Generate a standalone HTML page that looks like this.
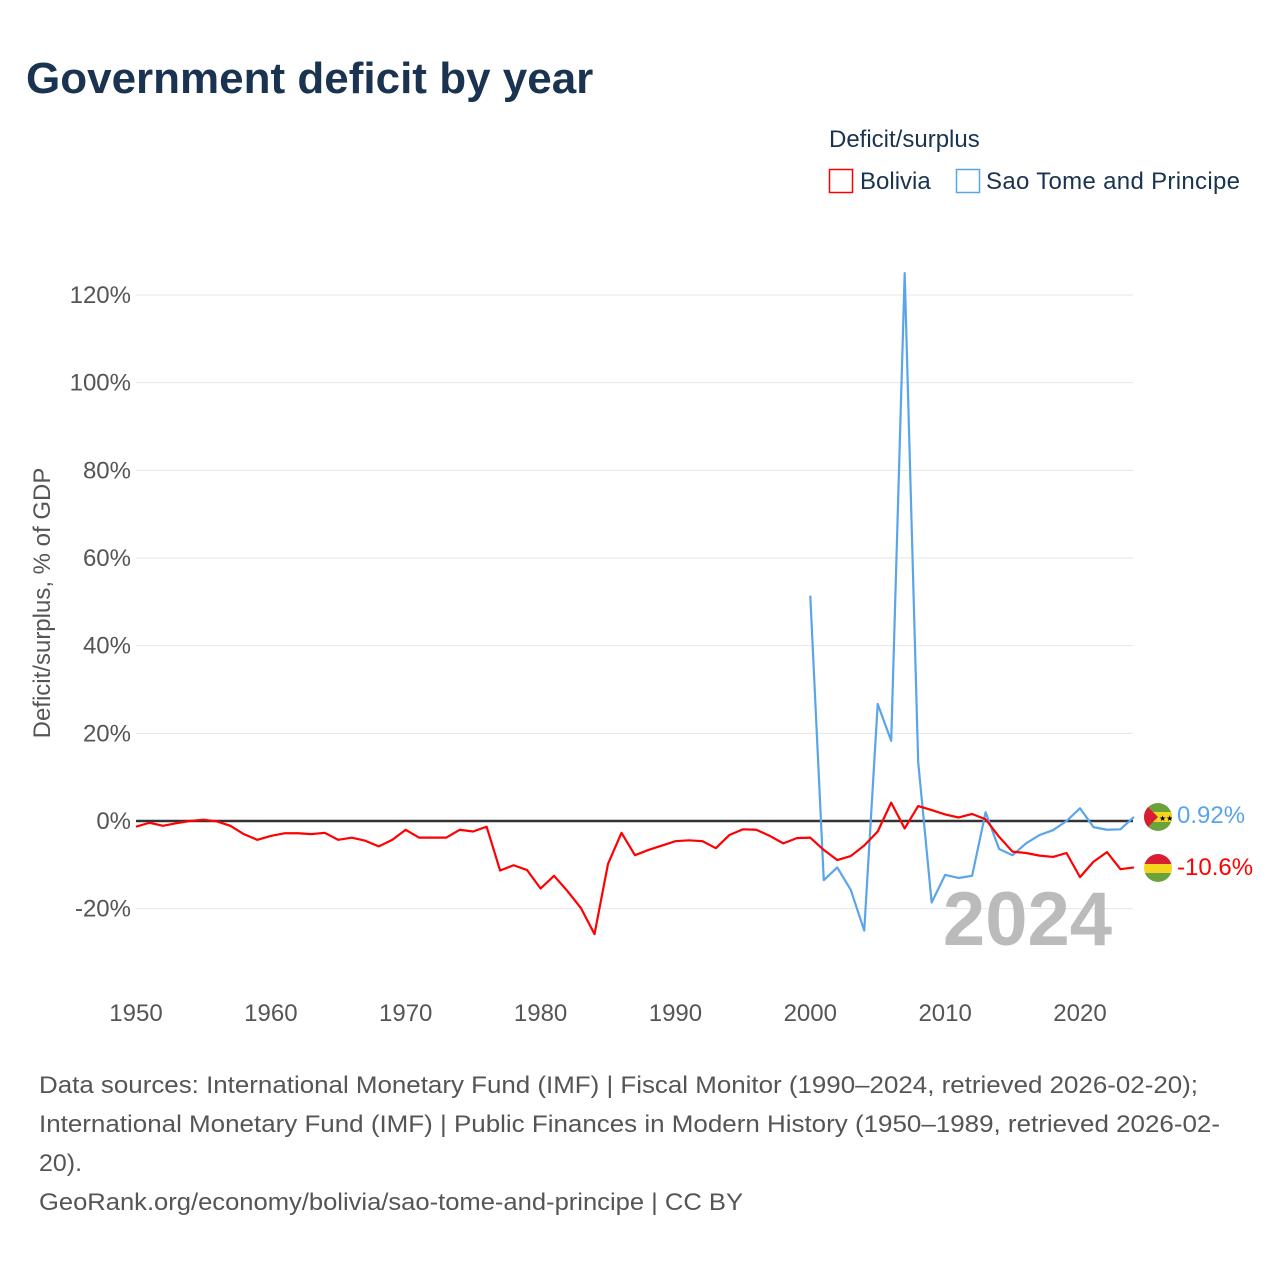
<!DOCTYPE html>
<html><head><meta charset="utf-8">
<style>
body{margin:0;background:#fff;font-family:"Liberation Sans",sans-serif;}
svg text{font-family:"Liberation Sans",sans-serif;}
</style></head>
<body>
<svg id="chart" width="1280" height="1280" viewBox="0 0 1280 1280">
<text x="26" y="93" font-size="44" font-weight="bold" fill="#1a3350">Government deficit by year</text>
<text x="829" y="147" font-size="24" fill="#1a3350">Deficit/surplus</text>
<g>
<rect x="829.5" y="169.5" width="23" height="23" fill="none" stroke="#ff0000" stroke-width="1.5"/>
<text x="860" y="189" font-size="24" fill="#1a3350">Bolivia</text></g>
<g>
<rect x="956.5" y="169.5" width="23" height="23" fill="none" stroke="#5aa5ea" stroke-width="1.5"/>
<text x="986" y="189" font-size="24" fill="#1a3350" textLength="254">Sao Tome and Principe</text></g>
<text transform="translate(50,603) rotate(-90)" text-anchor="middle" font-size="24" fill="#555">Deficit/surplus, % of GDP</text>
<g id="grid"></g>
<text x="1112" y="945" text-anchor="end" font-size="76" font-weight="bold" fill="#bbb">2024</text>
<g id="series"></g>
<g>
<clipPath id="c1"><circle cx="1158" cy="817" r="14"/></clipPath>
<g clip-path="url(#c1)"><rect x="1144" y="803" width="28" height="28" fill="#6aa23c"/><rect x="1144" y="812" width="28" height="10" fill="#f5d520"/><polygon points="1144,803 1158,817 1144,831" fill="#d81e34"/>
<text x="1159" y="821" font-size="8" fill="#000">★★</text></g></g>
<g>
<clipPath id="c2"><circle cx="1158" cy="868" r="14"/></clipPath>
<g clip-path="url(#c2)"><rect x="1144" y="854" width="28" height="10" fill="#d81e34"/><rect x="1144" y="864" width="28" height="9" fill="#f5d520"/><rect x="1144" y="873" width="28" height="10" fill="#6aa23c"/></g></g>
<text x="1177" y="823" font-size="24" fill="#5aa5ea">0.92%</text>
<text x="1177" y="875" font-size="24" fill="#ff0000">-10.6%</text>
<g font-size="24" fill="#555">
<text x="39" y="1093" textLength="1159" lengthAdjust="spacingAndGlyphs">Data sources: International Monetary Fund (IMF) | Fiscal Monitor (1990–2024, retrieved 2026-02-20);</text>
<text x="39" y="1132" textLength="1181" lengthAdjust="spacingAndGlyphs">International Monetary Fund (IMF) | Public Finances in Modern History (1950–1989, retrieved 2026-02-</text>
<text x="39" y="1171" textLength="43" lengthAdjust="spacingAndGlyphs">20).</text>
<text x="39" y="1210" textLength="704" lengthAdjust="spacingAndGlyphs">GeoRank.org/economy/bolivia/sao-tome-and-principe | CC BY</text>
</g>
</svg>
<script>
const yTicks=[120,100,80,60,40,20,0,-20];
const xTicks=[1950,1960,1970,1980,1990,2000,2010,2020];
const boliviaYears=[];for(let y=1950;y<=2024;y++)boliviaYears.push(y);
const boliviaValues=[-1.3,-0.4,-1.1,-0.5,0,0.3,-0.1,-1.1,-3,-4.3,-3.4,-2.8,-2.8,-3.0,-2.7,-4.3,-3.8,-4.5,-5.8,-4.3,-2.0,-3.8,-3.8,-3.8,-2.0,-2.4,-1.3,-11.3,-10.1,-11.2,-15.4,-12.5,-16,-19.9,-25.8,-9.8,-2.7,-7.8,-6.6,-5.6,-4.6,-4.4,-4.6,-6.2,-3.2,-1.9,-2.0,-3.4,-5.1,-3.9,-3.8,-6.6,-8.9,-8.0,-5.6,-2.4,4.2,-1.7,3.4,2.5,1.5,0.8,1.6,0.4,-3.6,-7.0,-7.3,-7.9,-8.2,-7.3,-12.8,-9.3,-7.1,-11.0,-10.6];
const stpYears=[];for(let y=2000;y<=2024;y++)stpYears.push(y);
const stpValues=[51.4,-13.5,-10.6,-15.7,-25.0,26.7,18.3,125,13.5,-18.6,-12.3,-13.0,-12.5,2.0,-6.4,-7.8,-5.1,-3.2,-2.1,0,2.9,-1.4,-2.0,-1.9,0.92];
const NS='http://www.w3.org/2000/svg';
const X=y=>136+(y-1950)*944/70;
const Y=v=>821-v*526/120;
const grid=document.getElementById('grid');
function mk(tag,attrs,parent){const e=document.createElementNS(NS,tag);for(const k in attrs)e.setAttribute(k,attrs[k]);parent.appendChild(e);return e;}
yTicks.forEach(t=>{
 const l=mk('line',{x1:136,x2:1133,y1:Y(t),y2:Y(t),stroke:t===0?'#333':'#e6e6e6','stroke-width':t===0?2.4:1},grid);
 
 
 const tx=mk('text',{x:131,y:Y(t)+8,'text-anchor':'end','font-size':24,fill:'#555'},grid);
 tx.textContent=t+'%';
 
 
});
xTicks.forEach(t=>{
 const tx=mk('text',{x:X(t),y:1021,'text-anchor':'middle','font-size':24,fill:'#555'},grid);
 tx.textContent=t;
 
 
});
const series=document.getElementById('series');
function line(years,vals,color,name){
 const p=mk('polyline',{points:years.map((y,i)=>X(y)+','+Y(vals[i])).join(' '),fill:'none',stroke:color,'stroke-width':2.2,'stroke-linejoin':'round'},series);
 
 
}
line(stpYears,stpValues,'#5aa5ea','line-sao-tome');
line(boliviaYears,boliviaValues,'#ff0000','line-bolivia');
</script>
</body></html>
